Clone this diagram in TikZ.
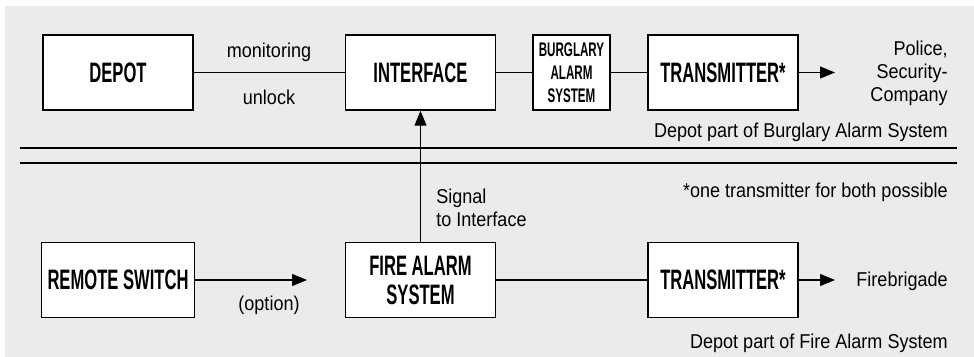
\documentclass[tikz,border=0pt]{standalone}
\usepackage{fontspec}
\newfontfamily\boxfont{Liberation Sans}[FakeStretch=0.59]
\newfontfamily\labelfont{Liberation Sans}[FakeStretch=0.9]
\usetikzlibrary{positioning,arrows.meta}
\definecolor{bggray}{RGB}{235,235,235}

\tikzset{
  blockbox/.style={draw,thick,fill=white,minimum width=3cm,minimum height=1.5cm,
    align=center,font=\boxfont\bfseries\fontsize{16}{16.5}\selectfont},
  smallbox/.style={blockbox,minimum width=1.5cm,font=\boxfont\bfseries\fontsize{11.2}{13}\selectfont},
  note/.style={font=\labelfont\fontsize{11.4}{13}\selectfont,inner sep=0pt},
  link/.style={semithick},
  arrowlink/.style={semithick,-{Triangle[length=3mm,width=2.4mm]}}
}

\begin{document}
\begin{tikzpicture}[x=0.2mm,y=-0.2mm]
    \useasboundingbox (0,0) rectangle (974,357);
    \fill[bggray] (5,6) rectangle (974,357);

    % upper part
    \node[blockbox] (depot) at (118,72.5) {DEPOT};
    \node[blockbox] (iface) at (420.5,72.5) {INTERFACE};
    \node[smallbox] (burglary) at (571.5,72.5) {BURGLARY\\ALARM\\SYSTEM};
    \node[blockbox] (txtop) at (723,72.5) {TRANSMITTER*};
    \coordinate (police) at (835,72.5);

    % lower part
    \node[blockbox] (remote) at (118,280) {REMOTE SWITCH};
    \node[blockbox] (fire) at (420.5,280) {FIRE ALARM\\SYSTEM};
    \node[blockbox] (txbot) at (723,280) {TRANSMITTER*};
    \coordinate (option) at (307,280);
    \coordinate (brigade) at (835,280);

    \draw[link] (depot) -- (iface);
    \draw[link] (iface) -- (burglary);
    \draw[link] (burglary) -- (txtop);
    \draw[arrowlink] (txtop) -- (police);
    \draw[arrowlink] (remote) -- (option);
    \draw[link] (fire) -- (txbot);
    \draw[arrowlink] (txbot) -- (brigade);
    \draw[arrowlink] (fire) -- (iface);

    % separation
    \draw[thick] (20,148) -- (957,148);
    \draw[thick] (20,163) -- (957,163);

    \node[note] (monitor) at (269,52) {monitoring};
    \node[note] (unlock) at (269,97) {unlock};
    \node[note] (opt) at (269,305) {(option)};
    \node[note,anchor=west,align=left] (signal) at (436,208) {Signal\\to Interface};
    \node[note,anchor=east,align=right] (policetext) at (948,73) {Police,\\Security-\\Company};
    \node[note,anchor=east] (brigadetext) at (948,281) {Firebrigade};
    \node[note,anchor=east] (burglarypart) at (948,132) {Depot part of Burglary Alarm System};
    \node[note,anchor=east] (both) at (948,192) {*one transmitter for both possible};
    \node[note,anchor=east] (firepart) at (948,343) {Depot part of Fire Alarm System};
\end{tikzpicture}
\end{document}
